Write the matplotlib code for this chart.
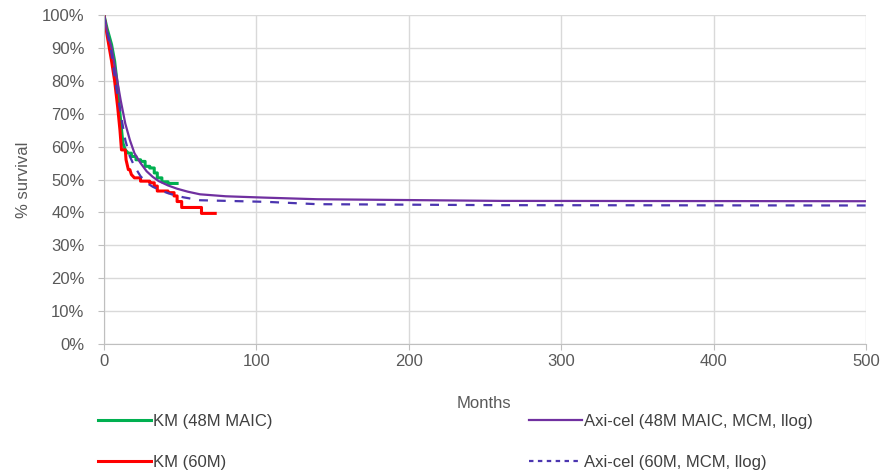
import numpy as np
import matplotlib
matplotlib.use('Agg')
import matplotlib.pyplot as plt
from matplotlib.lines import Line2D

plt.rcParams['font.family'] = ['Liberation Sans', 'DejaVu Sans']

# KM (48M MAIC) - polyline vertices (months, survival %)
km48_t = [0, 2, 5, 7, 9, 10.5, 12, 12.5, 14, 16, 18, 18, 21, 21, 24, 24, 27, 27, 30, 30, 33, 33, 35, 35, 38, 38, 42, 42, 48]
km48_s = [100, 96, 91, 86, 78, 70, 63, 61, 59, 58, 58, 57, 57, 56, 56, 55.5, 55.5, 54, 54, 53.5, 53.5, 52, 52, 50.5, 50.5, 49.3, 49.3, 48.8, 48.8]

# KM (60M)
km60_t = [0, 2, 5, 7, 9, 10.5, 11.5, 14, 14.5, 16, 17, 18, 20, 24, 24, 30, 30, 33, 33, 35, 35, 42, 42, 46, 46, 48, 48, 51, 51, 64, 64, 73]
km60_s = [100, 94, 86, 80, 72, 65, 59, 59, 56, 53, 53, 51.5, 50.5, 50.5, 49.5, 49.5, 49, 49, 48, 48, 46.5, 46.5, 46, 46, 45, 45, 43.3, 43.3, 41.5, 41.5, 39.7, 39.7]

# Axi-cel (48M MAIC, MCM, llog)
axi48_t = [0, 2, 5, 8, 11, 14, 17, 20, 24, 28, 32, 36, 42, 48, 55, 63, 80, 105, 140, 260, 500]
axi48_s = [100, 95, 90, 82, 74, 67, 62, 58, 55, 52.5, 50.8, 49.5, 48.2, 47.2, 46.3, 45.5, 44.9, 44.5, 44.0, 43.5, 43.4]

# Axi-cel (60M, MCM, llog)
axi60_t = [0, 5, 8, 11, 14, 17, 20, 24, 28, 32, 38, 45, 52, 63, 107, 140, 260, 500]
axi60_s = [100, 88, 78, 70, 62, 57, 54, 51, 49, 47.8, 46.5, 45.4, 44.6, 43.7, 43.2, 42.5, 42.2, 42.1]

fig = plt.figure(figsize=(8.84, 4.73), dpi=100)
ax = fig.add_axes([0.1176, 0.2727, 0.862, 0.6956])

ax.plot(km48_t, km48_s, color='#00b050', lw=2.2)
ax.plot(km60_t, km60_s, color='#ff0000', lw=2.2)
ax.plot(axi48_t, axi48_s, color='#7030a0', lw=1.6)
ax.plot(axi60_t, axi60_s, color='#4b35b0', lw=1.6, ls=(0, (4, 4)))

ax.set_xlim(0, 500)
ax.set_ylim(0, 100)
ax.set_xticks(range(0, 501, 100))
ax.set_yticks(range(0, 101, 10))
ax.set_yticklabels(['%d%%' % v for v in range(0, 101, 10)])
ax.grid(True, color='#d9d9d9', lw=1)
ax.set_axisbelow(True)
for s in ['top', 'right']:
    ax.spines[s].set_visible(False)
for s in ['left', 'bottom']:
    ax.spines[s].set_color('#bfbfbf')
ax.tick_params(colors='#bfbfbf', labelcolor='#595959', labelsize=12, length=4)
ax.tick_params(axis='y', pad=10)
ax.set_ylabel('% survival', color='#595959', fontsize=12, labelpad=8)

fig.text(0.548, 0.138, 'Months', color='#595959', fontsize=12, ha='center')

h1 = [Line2D([], [], color='#00b050', lw=2.2), Line2D([], [], color='#ff0000', lw=2.2)]
h2 = [Line2D([], [], color='#7030a0', lw=1.6), Line2D([], [], color='#4b35b0', lw=1.6, ls=(0, (2, 2)))]
leg_kw = dict(frameon=False, fontsize=12, handlelength=3.2, handletextpad=0.1, labelspacing=1.55, labelcolor='#404040')
fig.legend(h1, ['KM (48M MAIC)', 'KM (60M)'], loc='upper left', bbox_to_anchor=(0.094, 0.157), **leg_kw)
fig.legend(h2, ['Axi-cel (48M MAIC, MCM, llog)', 'Axi-cel (60M, MCM, llog)'], loc='upper left', bbox_to_anchor=(0.581, 0.157), **leg_kw)

fig.savefig('out.png', dpi=100)
